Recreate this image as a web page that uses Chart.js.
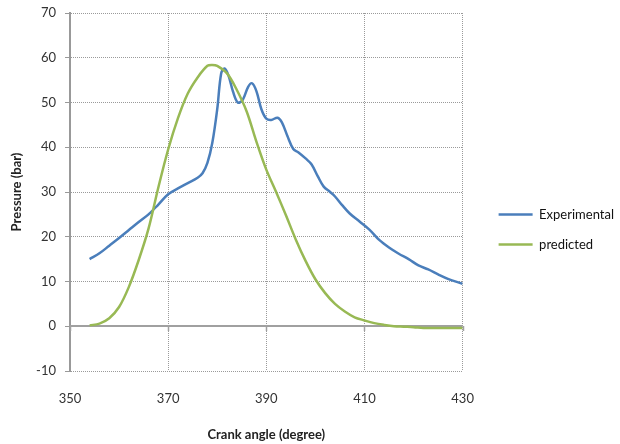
<!DOCTYPE html>
<html><head><meta charset="utf-8">
<script src="https://cdn.jsdelivr.net/npm/chart.js@4.4.1/dist/chart.umd.min.js"></script>
<style>html,body{margin:0;padding:0;background:#fff}</style>
</head><body>
<canvas id="c" width="620" height="444"></canvas>
<script>
const seriesNames = ['Experimental', 'predicted'];
const expAngle = [354,356,358,360,362,364,366,368,370,372,374,376,377,378,379,380,380.8,381.5,382.3,383.2,384.2,385.2,386.3,387.1,388,389,390,391,392.3,393.2,394.3,395.5,396.5,398,399.2,400.5,401.7,403,404,405.5,407,409,411,413,415,417,419,421,423,425,427,430];
const expPressure = [15.0,16.3,18.0,19.7,21.5,23.3,25.0,27.2,29.5,30.8,32.0,33.2,34.2,36.5,41.0,48.5,56.5,57.6,56.0,52.5,50.0,50.6,53.5,54.3,52.5,48.5,46.4,46.1,46.6,45.5,42.5,39.6,38.9,37.5,36.2,33.5,31.2,30.0,29.0,27.0,25.2,23.4,21.6,19.3,17.6,16.2,15.0,13.6,12.7,11.6,10.6,9.5];
const predAngle = [354,356,358,360,362,364,366,368,370,372,374,376,378,379,380,382,384,386,388,390,392,394,396,398,400,402,404,406,408,410,412,414,416,418,420,422,426,430];
const predPressure = [0.2,0.6,1.8,4.3,8.8,14.8,21.8,31.0,39.5,46.5,52.0,55.6,58.2,58.4,58.2,56.5,52.8,48.0,41.2,35.0,30.0,24.8,19.4,14.6,10.5,7.4,5.0,3.3,2.0,1.3,0.7,0.3,0.0,-0.1,-0.2,-0.4,-0.4,-0.4];
const xTicks = [350,370,390,410,430];
const yTicks = [-10,0,10,20,30,40,50,60,70];
const xTitle = 'Crank angle (degree)';
const yTitle = 'Pressure (bar)';

const toPoints = (xs, ys) => xs.map((x, i) => ({x: x, y: ys[i]}));

const zeroLine = {
  id: 'zeroLine',
  afterLayout(chart) {
    const lg = chart.legend;
    if (lg) { lg.left += 19; lg.right += 19; lg.top += 1; lg.bottom += 1; }
  },
  beforeDatasetsDraw(chart) {
    const {ctx, chartArea, scales} = chart;
    const y = Math.round(scales.y.getPixelForValue(0));
    ctx.save();
    ctx.strokeStyle = '#a0a0a0';
    ctx.lineWidth = 2;
    ctx.beginPath();
    ctx.moveTo(chartArea.left, y);
    ctx.lineTo(chartArea.right, y);
    ctx.stroke();
    ctx.lineWidth = 1.5;
    xTicks.forEach(v => {
      const x = Math.round(scales.x.getPixelForValue(v)) + 0.5;
      ctx.beginPath();
      ctx.moveTo(x, y);
      ctx.lineTo(x, y + 5);
      ctx.stroke();
    });
    ctx.restore();
  }
};

new Chart(document.getElementById('c'), {
  type: 'line',
  data: {
    datasets: [
      {label: seriesNames[0], data: toPoints(expAngle, expPressure), borderColor: '#4a7ebb', backgroundColor: '#4a7ebb', borderWidth: 2.5, pointRadius: 0, tension: 0.35, fill: false, order: 1},
      {label: seriesNames[1], data: toPoints(predAngle, predPressure), borderColor: '#98b954', backgroundColor: '#98b954', borderWidth: 2.5, pointRadius: 0, tension: 0.35, fill: false, order: 0}
    ]
  },
  options: {
    responsive: false,
    animation: false,
    layout: {padding: {top: 13, right: 15, left: 0, bottom: 0}},
    plugins: {
      tooltip: {enabled: false},
      legend: {
        position: 'right',
        labels: {
          font: {family: 'Lato', size: 13},
          color: '#111',
          usePointStyle: true,
          pointStyle: 'line',
          pointStyleWidth: 34,
          padding: 17,
          sort: (a, b) => a.datasetIndex - b.datasetIndex
        }
      }
    },
    scales: {
      x: {
        type: 'linear',
        min: 350, max: 430,
        afterBuildTicks: s => { s.ticks = xTicks.map(v => ({value: v})); },
        afterFit: s => { s.height = 73; },
        ticks: {font: {family: 'Lato', size: 13}, color: '#333', padding: 20},
        grid: {color: '#9a9a9a', drawTicks: false, lineWidth: 1},
        border: {display: false, dash: [1, 1]},
        title: {display: true, text: xTitle, font: {family: 'Lato', size: 13, weight: 'bold'}, color: '#222', padding: {top: 0, bottom: 1}}
      },
      y: {
        min: -10, max: 70,
        afterBuildTicks: s => { s.ticks = yTicks.map(v => ({value: v})); },
        afterFit: s => { s.width = 70; s.paddingTop = 4; s.paddingBottom = 4; },
        ticks: {font: {family: 'Lato', size: 13}, color: '#333', padding: 9},
        grid: {color: '#9a9a9a', drawTicks: true, tickLength: 5, tickColor: '#999', lineWidth: 1},
        border: {display: true, color: '#999', width: 2, dash: [1, 1]},
        title: {display: true, text: yTitle, font: {family: 'Lato', size: 13, weight: 'bold'}, color: '#222', padding: {top: 9, bottom: 0}}
      }
    }
  },
  plugins: [zeroLine]
});
</script>
</body></html>
